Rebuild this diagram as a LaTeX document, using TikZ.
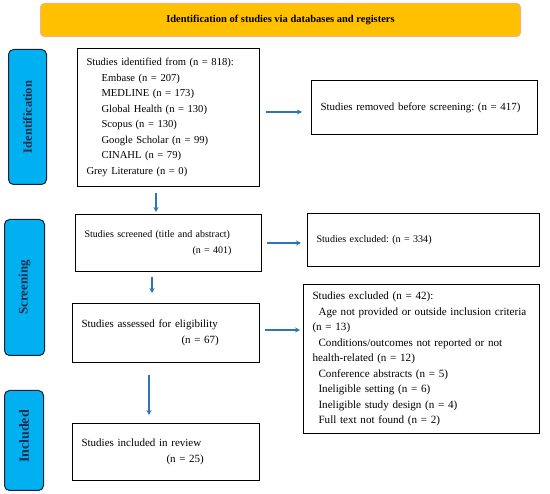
\documentclass[tikz,border=0pt]{standalone}
\usepackage{fontspec}
\setmainfont{Liberation Serif}
\usetikzlibrary{arrows.meta}
\definecolor{bannerfill}{HTML}{FFC000}
\definecolor{bannerline}{HTML}{F4B183}
\definecolor{phasefill}{HTML}{00B0F0}
\definecolor{phasetext}{HTML}{1F2D4E}
\definecolor{arrowblue}{HTML}{2E75B6}
\frenchspacing
\begin{document}
\begin{tikzpicture}[x=1pt,y=-1pt,
  every node/.style={font=\fontsize{10.5}{15.5}\selectfont},
  flowbox/.style={draw=black, line width=1.1pt, anchor=north west, align=left, inner xsep=9pt, inner ysep=0pt},
  phase/.style={draw=phasetext!70!black, line width=1pt, fill=phasefill, rounded corners=5pt, anchor=north west, inner sep=0pt},
  phaselabel/.style={rotate=90, text=phasetext},
  flowarrow/.style={draw=arrowblue, line width=1.4pt, -{Stealth[length=5pt,width=5pt]}}
]
\useasboundingbox (0,0) rectangle (550,494);
% banner
\node[draw=bannerline, line width=1pt, fill=bannerfill, rounded corners=4pt, anchor=north west, minimum width=480pt, minimum height=33pt, inner sep=0pt] (banner) at (40,3) {};
\node[font=\fontsize{10.5}{12}\selectfont\bfseries] (bannertext) at (banner.center) {Identification of studies via databases and registers};
% phase labels
\node[phase, minimum width=38pt, minimum height=135pt] (pid) at (8,49) {};
\node[phaselabel, font=\fontsize{12.5}{14}\selectfont\bfseries] (pidt) at (pid.center) {Identification};
\node[phase, minimum width=40pt, minimum height=136pt] (pscr) at (4,219) {};
\node[phaselabel, font=\fontsize{13}{14}\selectfont\bfseries] (pscrt) at (pscr.center) {Screening};
\node[phase, minimum width=39pt, minimum height=100pt] (pinc) at (4,390) {};
\node[phaselabel, font=\fontsize{14}{15}\selectfont\bfseries] (pinct) at ([yshift=4pt]pinc.center) {Included};
% boxes
\node[flowbox, font=\fontsize{10.6}{15.5}\selectfont, text width=164pt, minimum height=138pt] (ident) at (77,48) {Studies identified from (n = 818):\\
\hspace*{15pt}Embase (n = 207)\\
\hspace*{15pt}MEDLINE (n = 173)\\
\hspace*{15pt}Global Health (n = 130)\\
\hspace*{15pt}Scopus (n = 130)\\
\hspace*{15pt}Google Scholar (n = 99)\\
\hspace*{15pt}CINAHL (n = 79)\\
Grey Literature (n = 0)};
\node[flowbox, font=\fontsize{10}{16}\selectfont, text width=168pt, minimum height=57pt] (screen) at (75,214) {Studies screened (title and abstract)\\
\hspace*{108pt}(n = 401)};
\node[flowbox, font=\fontsize{11}{16}\selectfont, text width=169pt, minimum height=59pt] (elig) at (72,303) {Studies assessed for eligibility\\
\hspace*{100pt}(n = 67)};
\node[flowbox, font=\fontsize{11}{16}\selectfont, text width=169pt, minimum height=57pt] (incl) at (72,423) {Studies included in review\\
\hspace*{85pt}(n = 25)};
\node[flowbox, font=\fontsize{10.9}{15.5}\selectfont, text width=208pt, minimum height=54pt] (removed) at (311,80) {Studies removed before screening: (n = 417)};
\node[flowbox, font=\fontsize{10.1}{15.5}\selectfont, text width=214pt, minimum height=53pt] (excl1) at (307,213) {Studies excluded: (n = 334)};
\node[flowbox, font=\fontsize{11.1}{15.5}\selectfont, text width=218pt, minimum height=149pt] (excl2) at (303,284) {Studies excluded (n = 42):\\
\hspace*{6pt}Age not provided or outside inclusion criteria\\
(n = 13)\\
\hspace*{6pt}Conditions/outcomes not reported or not\\
health-related (n = 12)\\
\hspace*{6pt}Conference abstracts (n = 5)\\
\hspace*{6pt}Ineligible setting (n = 6)\\
\hspace*{6pt}Ineligible study design (n = 4)\\
\hspace*{6pt}Full text not found (n = 2)};
% arrow coordinates
\coordinate (a1s) at (266,112); \coordinate (a1e) at (302,112);
\coordinate (a2s) at (267,243); \coordinate (a2e) at (301,243);
\coordinate (a3s) at (265,330); \coordinate (a3e) at (300,330);
\coordinate (d1s) at (156,193); \coordinate (d1e) at (156,212);
\coordinate (d2s) at (152,277); \coordinate (d2e) at (152,293);
\coordinate (d3s) at (149,375); \coordinate (d3e) at (149,415);
\draw[flowarrow] (a1s) -- (a1e);
\draw[flowarrow] (a2s) -- (a2e);
\draw[flowarrow] (a3s) -- (a3e);
\draw[flowarrow] (d1s) -- (d1e);
\draw[flowarrow] (d2s) -- (d2e);
\draw[flowarrow] (d3s) -- (d3e);
\end{tikzpicture}
\end{document}
